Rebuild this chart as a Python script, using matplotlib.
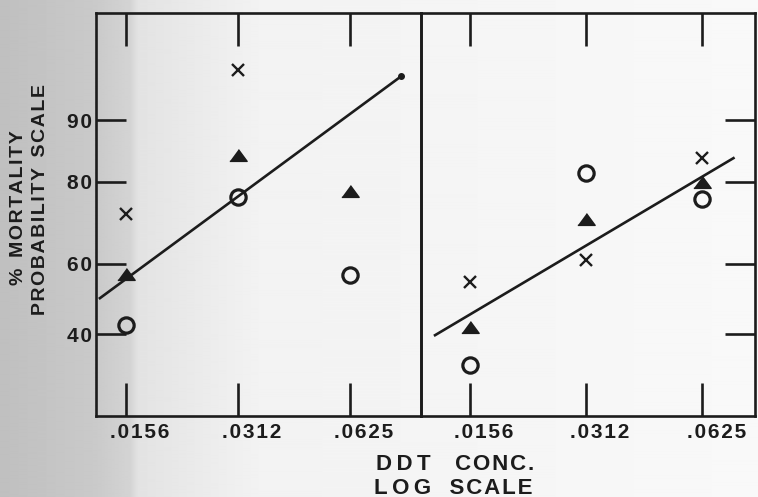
import numpy as np
import matplotlib
matplotlib.use("Agg")
import matplotlib.pyplot as plt
from matplotlib.ticker import FixedLocator, NullLocator, NullFormatter
from matplotlib.transforms import ScaledTranslation
from statistics import NormalDist

# ---- data ----
conc = [0.0156, 0.0312, 0.0625]
conc_labels = [".0156", ".0312", ".0625"]
yticks = [40, 60, 80, 90]

left_x_conc = [0.0156, 0.0312]
left_x = [73, 95]
left_tri = [57, 85, 78]
left_circ = [42.5, 76.7, 56.7]
left_line_x = [0.0133, 0.0857]
left_line_y = [50.2, 94.5]

right_x = [54.7, 61, 84.4]
right_tri = [42, 71.8, 79.9]
right_circ = [31.7, 81.8, 76.3]
right_line_x = [0.0127, 0.0752]
right_line_y = [39.7, 84.4]

INK = "#1c1c1c"
FONT = ["Liberation Sans", "DejaVu Sans"]
plt.rcParams.update({"font.family": FONT, "font.weight": "bold"})

nd = NormalDist()

def _probit(v):
    if not np.isfinite(v):
        return np.nan
    return nd.inv_cdf(min(max(v / 100.0, 1e-9), 1 - 1e-9))

def _unprobit(z):
    if not np.isfinite(z):
        return np.nan
    return nd.cdf(z) * 100.0

probit = np.vectorize(_probit, otypes=[float])
unprobit = np.vectorize(_unprobit, otypes=[float])

HAIR = "\u200a"

def spaced(s, gap="\u2009"):
    return gap.join(s)

fig = plt.figure(figsize=(7.58, 4.97), dpi=100)

# scanned-paper background: gray at the left edge, fading to white
bg = fig.add_axes([0, 0, 1, 1], zorder=-5)
px = np.arange(758)
shade = np.interp(px, [0, 95, 130, 138, 260, 758], [0.75, 0.79, 0.83, 0.89, 0.95, 0.975])
bg.imshow(np.tile(shade, (10, 1)), cmap="gray", vmin=0, vmax=1, aspect="auto",
          extent=[0, 1, 0, 1], interpolation="bilinear")
bg.set_axis_off()

axL = fig.add_axes([96/758, 1-416/497, 325/758, 403/497])
axR = fig.add_axes([421/758, 1-416/497, 334/758, 403/497])

for ax in (axL, axR):
    ax.set_facecolor("none")
    ax.set_xscale("log")
    ax.set_yscale("function", functions=(probit, unprobit))
    ax.set_ylim(20, 98)
    ax.xaxis.set_major_locator(FixedLocator(conc))
    ax.xaxis.set_minor_locator(NullLocator())
    ax.xaxis.set_minor_formatter(NullFormatter())
    ax.set_xticklabels([spaced(s, HAIR) for s in conc_labels])
    ax.yaxis.set_major_locator(FixedLocator(yticks))
    ax.yaxis.set_minor_locator(NullLocator())
    for sp in ax.spines.values():
        sp.set_linewidth(1.9)
        sp.set_color(INK)
    ax.tick_params(axis="x", which="major", direction="in", top=True, bottom=True,
                   length=24, width=1.9, color=INK, labelsize=15, pad=5, labelcolor=INK)

axL.set_xlim(0.01298, 0.0970)
axR.set_xlim(0.01168, 0.0855)

axL.tick_params(axis="y", direction="in", left=True, right=False, length=21.5, width=1.9,
                color=INK, labelsize=15, pad=3, labelcolor=INK)
axL.set_yticklabels([spaced(str(v), HAIR) for v in yticks])
axR.tick_params(axis="y", direction="in", left=False, right=True, labelleft=False,
                length=21.5, width=1.9, color=INK)

# the lettered tick labels sit a little right of their ticks on the original
for ax in (axL, axR):
    for lbl in ax.get_xticklabels():
        lbl.set_transform(lbl.get_transform() + ScaledTranslation(0.14, 0, fig.dpi_scale_trans))

mk = dict(linestyle="none", color=INK, zorder=4)
tri_verts = [(-1, -0.68), (1, -0.68), (0, 0.68)]

# left panel
axL.plot(left_line_x, left_line_y, color=INK, lw=1.9, marker="o", markevery=[1], ms=4, zorder=3)
axL.plot(left_x_conc, left_x, marker="x", ms=8.5, mew=1.7, **mk)
axL.plot(conc, left_tri, marker=tri_verts, ms=12.5, **mk)
axL.plot(conc, left_circ, marker="o", ms=11, mfc="none", mew=2.3, **mk)

# right panel
axR.plot(right_line_x, right_line_y, color=INK, lw=1.9, zorder=3)
axR.plot(conc, right_x, marker="x", ms=8.5, mew=1.7, **mk)
axR.plot(conc, right_tri, marker=tri_verts, ms=12.5, **mk)
axR.plot(conc, right_circ, marker="o", ms=11, mfc="none", mew=2.3, **mk)

# axis titles
fig.text(19/758, 1-208/497, "%" + "  " + spaced("MORTALITY", HAIR), rotation=90,
         ha="center", va="center", fontsize=14, color=INK)
fig.text(41/758, 1-199/497, spaced("PROBABILITY", HAIR) + "  " + spaced("SCALE", HAIR),
         rotation=90, ha="center", va="center", fontsize=14, color=INK)
fig.text(455/758, 1-465/497, spaced("DDT") + "    " + spaced("CONC.", HAIR),
         ha="center", va="center", fontsize=16, color=INK)
fig.text(453/758, 1-488/497, spaced("LOG") + "   " + spaced("SCALE", HAIR),
         ha="center", va="center", fontsize=16, color=INK)

fig.savefig("out.png", dpi=100)
